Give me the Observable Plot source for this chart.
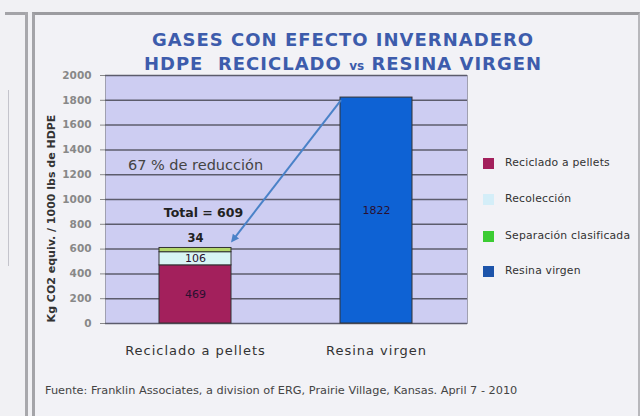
<!DOCTYPE html>
<html><head><meta charset="utf-8">
<script src="https://cdn.jsdelivr.net/npm/d3@7"></script>
<script src="https://cdn.jsdelivr.net/npm/@observablehq/plot@0.6"></script>
<style>
html,body{margin:0;padding:0;}
body{background:#f1f1f4;width:640px;height:416px;overflow:hidden;position:relative;font-family:"DejaVu Sans",Verdana,sans-serif;}
.abs{position:absolute;}
#ltop{left:5px;top:12px;width:21px;height:3px;background:#a4a4a8;}
#lline{left:8px;top:90px;width:1px;height:176px;background:#c4c4cc;}
#vline1{left:25px;top:12px;width:3px;height:404px;background:#a8a8ac;}
#panel{left:32px;top:12px;width:603px;height:410px;border-top:3px solid #9c9ca0;border-left:3px solid #a4a4a8;border-right:2px solid #b8b8bc;background:#f2f2f6;}
#title{left:60px;width:566px;top:28px;text-align:center;color:#3d5cac;font-weight:bold;font-size:18px;line-height:24px;letter-spacing:1px;}
#title .vs{font-size:12px;letter-spacing:0;}
#chart{left:0;top:60px;}
#legend{left:483px;top:157px;font-size:10.8px;color:#333;letter-spacing:0.2px;}
.item{position:absolute;left:0;white-space:nowrap;}
.sw{position:absolute;left:0;top:1px;width:11px;height:11px;}
.lt{position:absolute;left:22px;top:-1px;}
#caption{left:45px;top:384px;font-size:11.3px;color:#444;white-space:nowrap;}
#chart svg g[aria-label="x-axis tick label"] text{letter-spacing:1px;}
</style></head><body>
<div id="ltop" class="abs"></div>
<div id="lline" class="abs"></div>
<div id="vline1" class="abs"></div>
<div id="panel" class="abs"></div>
<div id="title" class="abs"></div>
<div id="chart" class="abs"></div>
<div id="legend" class="abs"></div>
<div id="caption" class="abs"></div>
<script>
// ---- data ----
const titleLines = ["GASES CON EFECTO INVERNADERO", "HDPE  RECICLADO vs RESINA VIRGEN"];
const categories = ["Reciclado a pellets", "Resina virgen"];
const seriesNames = ["Reciclado a pellets", "Recolección", "Separación clasificada", "Resina virgen"];
const legendLabels = ["Reciclado a pellets", "Recolección", "Separación clasificada", "Resina virgen"];
const pellets = [469, 0];
const recoleccion = [106, 0];
const separacion = [34, 0];
const resina = [0, 1822];
const yTicks = [0, 200, 400, 600, 800, 1000, 1200, 1400, 1600, 1800, 2000];
const yLabel = "Kg CO2 equiv. / 1000 lbs de HDPE";
const captionText = "Fuente: Franklin Associates, a division of ERG, Prairie Village, Kansas. April 7 - 2010";

// ---- styles ----
const barColors = ["#a3205c", "#d8f4f4", "#b2d66a", "#0e62d4"];
const legendColors = ["#a3205c", "#d4eef8", "#3ccc33", "#1d54aa"];
const FONT = "DejaVu Sans, Verdana, sans-serif";

// ---- build ----
const seriesValues = [pellets, recoleccion, separacion, resina];
const rows = [];
seriesNames.forEach((s, si) => categories.forEach((c, ci) => {
  const v = seriesValues[si][ci];
  if (v > 0) rows.push({cat: c, series: s, value: v});
}));
const labelRows = [];
categories.forEach(c => {
  let base = 0;
  rows.filter(r => r.cat === c).forEach(r => {
    labelRows.push({cat: c, series: r.series, value: r.value, mid: base + r.value / 2, top: base + r.value});
    base += r.value;
  });
});
const totalRec = pellets[0] + recoleccion[0] + separacion[0];
const totalVir = resina[1];
const reduction = Math.round((1 - totalRec / totalVir) * 100);

const inner = labelRows.filter(d => d.series !== "Separación clasificada");
const sep = labelRows.filter(d => d.series === "Separación clasificada");

function arrowMark(index, scales) {
  const x = scales.x, y = scales.y, bw = x.bandwidth();
  const x1 = x(categories[1]) + 1, y1 = y(totalVir) + 3;
  const x2 = x(categories[0]) + bw, y2 = y(totalRec) - 5;
  const g = d3.create("svg:g");
  const ang = Math.atan2(y2 - y1, x2 - x1);
  const hl = 9, hw = 0.45;
  g.append("line").attr("x1", x1).attr("y1", y1).attr("x2", x2 - Math.cos(ang) * 4).attr("y2", y2 - Math.sin(ang) * 4)
    .attr("stroke", "#4a82c8").attr("stroke-width", 2);
  const p = [[x2, y2],
    [x2 - hl * Math.cos(ang - hw), y2 - hl * Math.sin(ang - hw)],
    [x2 - hl * Math.cos(ang + hw), y2 - hl * Math.sin(ang + hw)]];
  g.append("polygon").attr("points", p.map(d => d.join(",")).join(" ")).attr("fill", "#4a82c8");
  return g.node();
}

const chart = Plot.plot({
  width: 470, height: 300,
  marginTop: 15, marginBottom: 37, marginLeft: 105, marginRight: 3,
  style: {background: "transparent", fontFamily: FONT, fontSize: "10px", overflow: "visible"},
  x: {domain: categories, paddingInner: 0.6, paddingOuter: 0.3, label: null},
  y: {domain: [0, 2000], label: null},
  color: {domain: seriesNames, range: barColors},
  marks: [
    Plot.frame({fill: "#cdcdf2", stroke: "#a0a0b0"}),
    Plot.ruleY(yTicks, {stroke: "#5c5c6c", strokeWidth: 1.5}),
    Plot.axisY({ticks: yTicks, tickSize: 5, tickPadding: 9, tickFormat: d => String(d), color: "#888", fontWeight: "bold", fontSize: 10.5, label: null}),
    Plot.axisX({tickSize: 0, tickPadding: 22, color: "#333", fontSize: 13, label: null}),
    Plot.barY(rows, {x: "cat", y: "value", fill: "series", order: seriesNames, stroke: "#333", strokeWidth: 1}),
    Plot.text(inner, {x: "cat", y: "mid", text: d => String(d.value), fill: "#2a1030", fontSize: 11}),
    Plot.text(sep, {x: "cat", y: "top", text: d => String(d.value), dy: -10, fill: "#222", fontWeight: "bold", fontSize: 11.5}),
    Plot.text([totalRec], {x: () => categories[0], y: d => d, text: d => "Total = " + d, dy: -35, dx: 8, fill: "#222", fontWeight: "bold", fontSize: 12.5}),
    Plot.text([reduction], {x: () => categories[0], y: () => (totalRec + totalVir) / 2, text: d => d + " % de reducción", dy: -7, fill: "#444", fontSize: 14.5}),
    Plot.text([yLabel], {frameAnchor: "left", textAnchor: "middle", rotate: -90, dx: -54, dy: 19, fill: "#333", fontWeight: "bold", fontSize: 11}),
    arrowMark
  ]
});
document.getElementById("chart").appendChild(chart);

document.getElementById("title").innerHTML = titleLines[0] + "<br>" +
  titleLines[1].replace(" vs ", ' <span class="vs">vs</span> ').replace("  ", "&nbsp; ");

const legend = document.getElementById("legend");
const legendTops = [0, 36, 73, 108];
legendLabels.forEach((l, i) => {
  const it = document.createElement("div");
  it.className = "item";
  it.style.top = legendTops[i] + "px";
  it.innerHTML = `<span class="sw" style="background:${legendColors[i]}"></span><span class="lt">${l}</span>`;
  legend.appendChild(it);
});
document.getElementById("caption").textContent = captionText;
</script>
</body></html>
